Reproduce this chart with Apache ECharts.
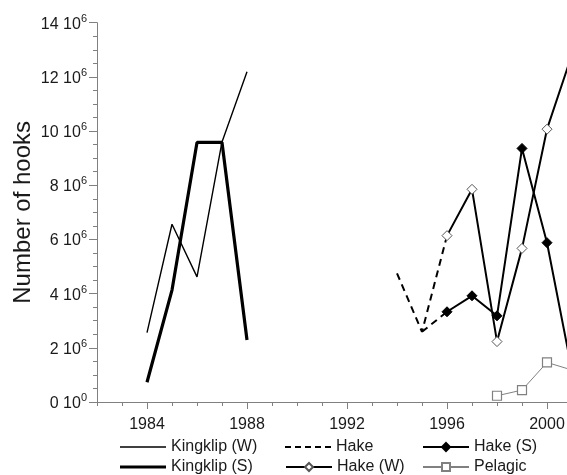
<!DOCTYPE html>
<html>
<head>
<meta charset="utf-8">
<script src="https://cdn.jsdelivr.net/npm/echarts@6/dist/echarts.min.js"></script>
<style>
  html, body { margin: 0; padding: 0; background: #fff; }
  #chart { width: 567px; height: 475px; }
</style>
</head>
<body>
<div id="chart"></div>
<script>
// Longline effort (number of hooks) by fishery and year
const kingklipYears = [1984, 1985, 1986, 1987, 1988];
const kingklipW = [2.56e6, 6.56e6, 4.62e6, 9.6e6, 12.19e6];
const kingklipS = [0.73e6, 4.13e6, 9.58e6, 9.58e6, 2.29e6];

const hakeYears = [1994, 1995, 1996];
const hake = [4.75e6, 2.59e6, 6.14e6];
const hakeLinkYears = [1995, 1996];
const hakeLink = [2.59e6, 3.33e6];

const hakeWYears = [1996, 1997, 1998, 1999, 2000, 2001];
const hakeW = [6.14e6, 7.85e6, 2.23e6, 5.67e6, 10.07e6, 12.83e6];

const hakeSYears = [1996, 1997, 1998, 1999, 2000, 2001];
const hakeS = [3.33e6, 3.92e6, 3.18e6, 9.36e6, 5.88e6, 1.15e6];

const pelagicYears = [1998, 1999, 2000, 2001];
const pelagic = [0.23e6, 0.44e6, 1.46e6, 1.18e6];

const labelYears = [1984, 1988, 1992, 1996, 2000];

const pair = (xs, ys) => xs.map((x, i) => [x, ys[i]]);

const FONT = '"Liberation Sans", Arial, sans-serif';
const AXIS = '#808080';
const INK = '#1a1a1a';

const chart = echarts.init(document.getElementById('chart'));

function yLabel(v) {
  const m = Math.round(v / 1e6);
  const e = m === 0 ? 0 : 6;
  return '{n|' + m + ' 10}{s|' + e + '}';
}

// one legend entry per component so each key can be placed in its own cell
const DASH_ICON = 'path://M0,0h6v2h-6z M10,0h6v2h-6z M20,0h6v2h-6z M30,0h6v2h-6z M40,0h6v2h-6z';
function legendCell(name, left, top, extra) {
  return Object.assign({
    left: left, top: top, padding: 0,
    itemWidth: 46, itemHeight: 10,
    textStyle: { fontFamily: FONT, fontSize: 16, color: INK, lineHeight: 16 },
    data: [name]
  }, extra || {});
}

chart.setOption({
  animation: false,
  backgroundColor: '#fff',
  grid: {
    left: 97, right: 0, top: 22.7, bottom: 73,
    containLabel: false, outerBoundsMode: 'none'
  },
  legend: [
    legendCell('Kingklip (W)', 120, 439, { icon: 'rect', itemHeight: 1.5 }),
    legendCell('Kingklip (S)', 120, 459, { icon: 'rect', itemHeight: 3.2 }),
    legendCell('Hake', 285, 439, { icon: DASH_ICON, itemHeight: 2 }),
    legendCell('Hake (W)', 285, 459),
    legendCell('Hake (S)', 422, 439),
    legendCell('Pelagic', 422, 459)
  ],
  xAxis: [
    {
      type: 'value', min: 1982, max: 2000.8, interval: 1,
      splitLine: { show: false },
      axisLine: { lineStyle: { color: AXIS, width: 1 } },
      axisTick: { customValues: labelYears, length: 7, lineStyle: { color: AXIS } },
      axisLabel: {
        customValues: labelYears, margin: 15,
        fontFamily: FONT, fontSize: 16, color: INK,
        formatter: v => String(v)
      }
    },
    {
      type: 'value', min: 1982, max: 2000.8, interval: 1, position: 'bottom',
      splitLine: { show: false },
      axisLine: { show: false },
      axisTick: { length: 4, lineStyle: { color: AXIS } },
      axisLabel: { show: false }
    }
  ],
  yAxis: {
    type: 'value', min: 0, max: 14e6, interval: 2e6,
    name: 'Number of hooks', nameLocation: 'middle', nameGap: 62,
    nameMoveOverlap: false,
    nameTextStyle: { fontFamily: FONT, fontSize: 24, color: INK },
    splitLine: { show: false },
    axisLine: { show: true, lineStyle: { color: AXIS, width: 1 } },
    axisTick: { show: true, length: 8, lineStyle: { color: AXIS } },
    minorTick: { show: true, splitNumber: 4, length: 4, lineStyle: { color: AXIS } },
    axisLabel: {
      margin: 10, formatter: yLabel,
      rich: {
        n: { fontFamily: FONT, fontSize: 16, color: INK, verticalAlign: 'bottom', lineHeight: 19 },
        s: { fontFamily: FONT, fontSize: 11, color: INK, verticalAlign: 'top', lineHeight: 19 }
      }
    }
  },
  series: [
    {
      name: 'Kingklip (W)', type: 'line', data: pair(kingklipYears, kingklipW),
      showSymbol: false, symbol: 'none',
      lineStyle: { color: '#000', width: 1.4 }, itemStyle: { color: '#000' }
    },
    {
      name: 'Kingklip (S)', type: 'line', data: pair(kingklipYears, kingklipS),
      showSymbol: false, symbol: 'none',
      lineStyle: { color: '#000', width: 3.2 }, itemStyle: { color: '#000' }
    },
    {
      name: 'Hake', type: 'line', data: pair(hakeYears, hake),
      symbol: 'none',
      lineStyle: { color: '#000', width: 2, type: [7, 5] }, itemStyle: { color: '#000' }
    },
    {
      name: 'Hake', type: 'line', data: pair(hakeLinkYears, hakeLink),
      symbol: 'none',
      lineStyle: { color: '#000', width: 2, type: [7, 5] }, itemStyle: { color: '#000' }
    },
    {
      name: 'Hake (W)', type: 'line', data: pair(hakeWYears, hakeW),
      symbol: 'diamond', symbolSize: 10,
      lineStyle: { color: '#000', width: 2 },
      itemStyle: { color: '#fff', borderColor: '#555', borderWidth: 1 }
    },
    {
      name: 'Hake (S)', type: 'line', data: pair(hakeSYears, hakeS),
      symbol: 'diamond', symbolSize: 10,
      lineStyle: { color: '#000', width: 2 },
      itemStyle: { color: '#000', borderColor: '#000', borderWidth: 1 }
    },
    {
      name: 'Pelagic', type: 'line', data: pair(pelagicYears, pelagic),
      symbol: 'rect', symbolSize: 9,
      lineStyle: { color: '#808080', width: 1 },
      itemStyle: { color: '#fff', borderColor: '#808080', borderWidth: 1.2 }
    }
  ]
});
</script>
</body>
</html>
